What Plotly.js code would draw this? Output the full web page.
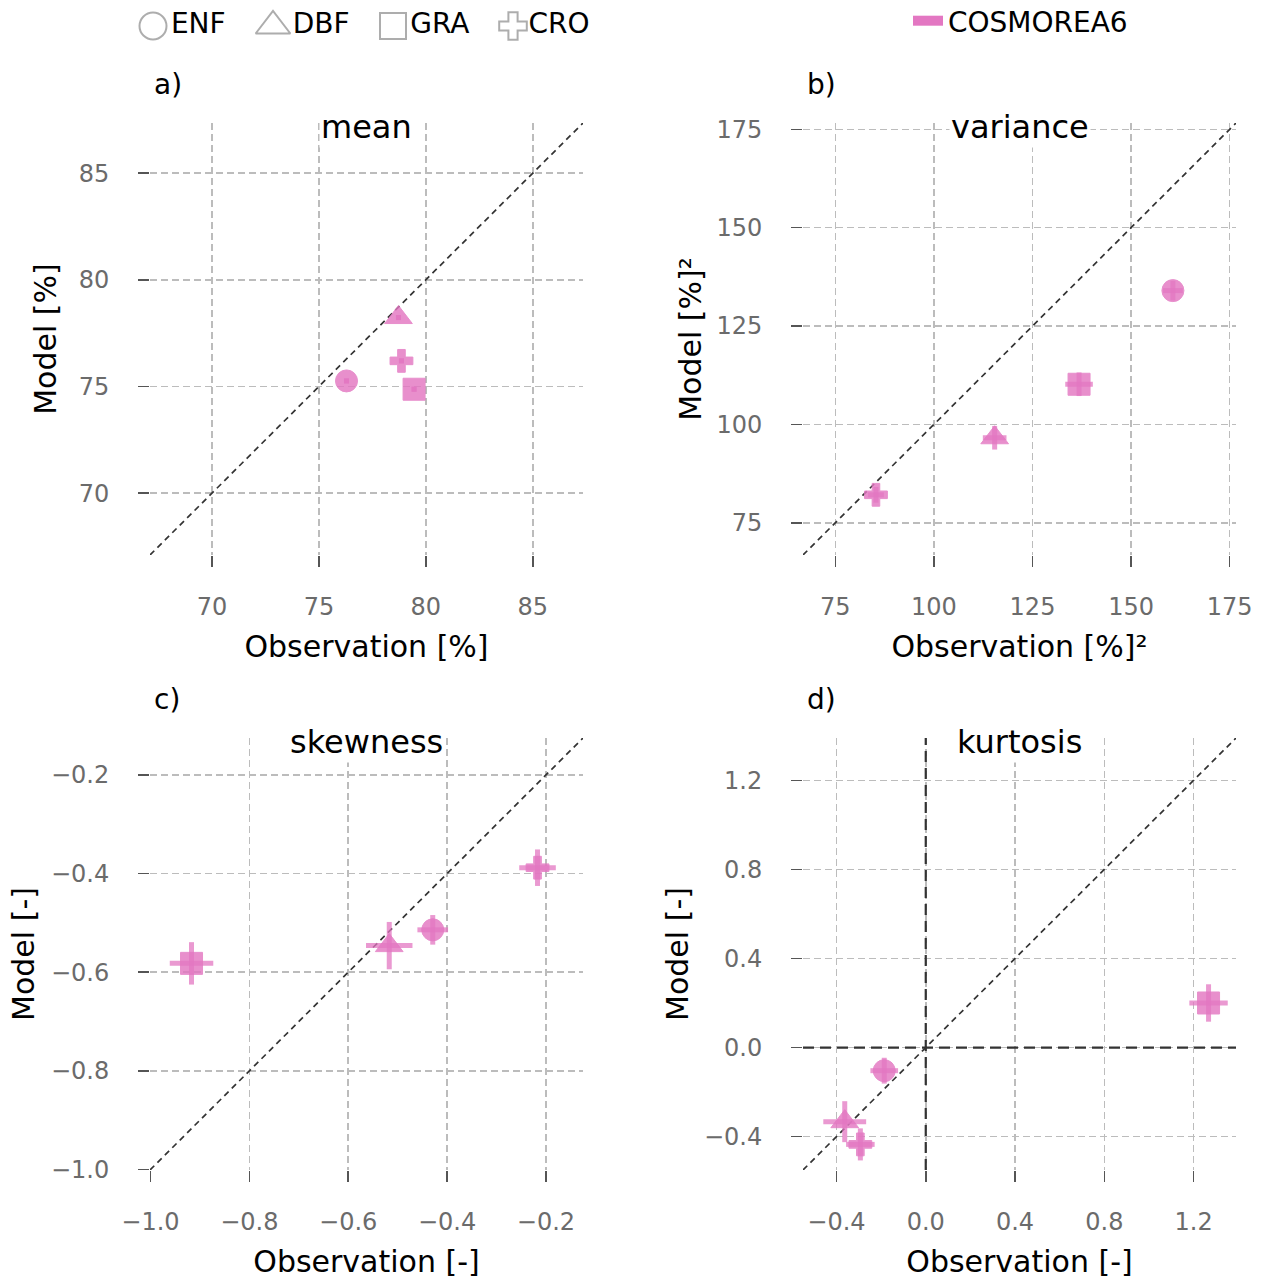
<!DOCTYPE html>
<html>
<head>
<meta charset="utf-8">
<script src="https://cdn.plot.ly/plotly-3.0.1.min.js"></script>
<style>
  html, body { margin: 0; padding: 0; background: #ffffff; }
  #chart { width: 1261px; height: 1281px; }
</style>
</head>
<body>
<div id="chart"></div>
<script>
// Biome classes and their marker shapes
const biomes = ['ENF', 'DBF', 'GRA', 'CRO'];
const biomeSymbols = ['circle', 'triangle-up', 'square', 'cross'];
const keySymbols = ['circle-open', 'triangle-up-open', 'square-open', 'cross-open'];
const modelName = 'COSMOREA6';

// a) mean [%]
const meanObs = [76.29, 78.72, 79.45, 78.86];
const meanMod = [75.26, 78.23, 74.87, 76.20];
const meanObsErr = [0.12, 0.12, 0.12, 0.12];
const meanModErr = [0.12, 0.12, 0.12, 0.12];
const meanTicks = [70, 75, 80, 85];
const meanLim = [67.1, 87.35];

// b) variance [%]^2
const varObs = [160.6, 115.4, 136.8, 85.3];
const varMod = [134.0, 96.6, 110.2, 82.1];
const varObsErr = [2.5, 3.0, 3.5, 2.0];
const varModErr = [2.5, 3.0, 3.0, 2.0];
const varTicks = [75, 100, 125, 150, 175];
const varLim = [66.8, 176.6];

// c) skewness [-]
const skewObs = [-0.429, -0.517, -0.917, -0.217];
const skewMod = [-0.514, -0.546, -0.582, -0.388];
const skewObsErr = [0.031, 0.047, 0.044, 0.037];
const skewModErr = [0.030, 0.048, 0.043, 0.037];
const skewTicks = [-1.0, -0.8, -0.6, -0.4, -0.2];
const skewLim = [-1.001, -0.125];

// d) kurtosis [-]
const kurtObs = [-0.186, -0.363, 1.267, -0.293];
const kurtMod = [-0.104, -0.333, 0.200, -0.435];
const kurtObsErr = [0.062, 0.096, 0.086, 0.064];
const kurtModErr = [0.058, 0.092, 0.084, 0.072];
const kurtTicks = [-0.4, 0.0, 0.4, 0.8, 1.2];
const kurtLim = [-0.55, 1.39];

const panelLetters = ['a)', 'b)', 'c)', 'd)'];
const panelTitles = ['mean', 'variance', 'skewness', 'kurtosis'];
const xTitles = ['Observation [%]', 'Observation [%]²', 'Observation [-]', 'Observation [-]'];
const yTitles = ['Model [%]', 'Model [%]²', 'Model [-]', 'Model [-]'];

// ---- styling ----
const PINK = '#e377c2';
const PINK_ERR = 'rgba(227,119,194,0.75)';
const FONT = 'DejaVu Sans, sans-serif';
const W = 1261, H = 1281;
const px = v => v / W;
const py = v => 1 - v / H;

const panels = [
  { obs: meanObs, mod: meanMod, ex: meanObsErr, ey: meanModErr, ticks: meanTicks, lim: meanLim, fmt: 'd', zero: false, yStand: 13 },
  { obs: varObs, mod: varMod, ex: varObsErr, ey: varModErr, ticks: varTicks, lim: varLim, fmt: 'd', zero: false, yStand: 5 },
  { obs: skewObs, mod: skewMod, ex: skewObsErr, ey: skewModErr, ticks: skewTicks, lim: skewLim, fmt: '.1f', zero: false, yStand: 7 },
  { obs: kurtObs, mod: kurtMod, ex: kurtObsErr, ey: kurtModErr, ticks: kurtTicks, lim: kurtLim, fmt: '.1f', zero: true, yStand: 6 }
];

// subplot boxes in pixels (left, right) and (top, bottom)
const colX = [[150, 583], [803, 1236]];
const rowY = [[123, 555], [738, 1170]];

const traces = [];
const layout = {
  width: W, height: H,
  margin: { l: 0, r: 0, t: 0, b: 0, autoexpand: false },
  paper_bgcolor: '#ffffff',
  plot_bgcolor: '#ffffff',
  font: { family: FONT, color: '#000' },
  showlegend: true,
  legend: {
    orientation: 'h',
    x: px(908), xanchor: 'left',
    y: py(21), yanchor: 'middle',
    font: { size: 28, color: '#000', family: FONT },
    bgcolor: 'rgba(0,0,0,0)',
    itemwidth: 30
  },
  annotations: []
};

panels.forEach((p, i) => {
  const n = i + 1;
  const xa = n === 1 ? 'x' : 'x' + n;
  const ya = n === 1 ? 'y' : 'y' + n;
  const xKey = n === 1 ? 'xaxis' : 'xaxis' + n;
  const yKey = n === 1 ? 'yaxis' : 'yaxis' + n;
  const cx = colX[i % 2];
  const ry = rowY[Math.floor(i / 2)];

  const axisCommon = {
    showgrid: true,
    gridcolor: '#bcbcbc',
    gridwidth: 1.6,
    griddash: '7px,4px',
    zeroline: false,
    showline: false,
    ticks: 'outside',
    ticklen: 11,
    tickwidth: 1.6,
    tickcolor: '#555555',
    tickfont: { size: 24, color: '#6b6b6b', family: FONT },
    tickmode: 'array',
    tickvals: p.ticks,
    tickformat: p.fmt,
    range: p.lim,
    automargin: false,
    fixedrange: true
  };

  layout[xKey] = Object.assign({}, axisCommon, {
    domain: [px(cx[0]), px(cx[1])],
    anchor: ya,
    ticklabelstandoff: 19,
    title: { text: xTitles[i], font: { size: 30, color: '#000', family: FONT }, standoff: 16 }
  });
  layout[yKey] = Object.assign({}, axisCommon, {
    domain: [py(ry[1]), py(ry[0])],
    anchor: xa,
    ticklabelstandoff: 24,
    title: { text: yTitles[i], font: { size: 30, color: '#000', family: FONT }, standoff: p.yStand }
  });

  // dashed zero lines (kurtosis only)
  if (p.zero) {
    const zeroLine = { color: '#333333', width: 2.2, dash: '11px,6px' };
    traces.push({
      type: 'scatter', mode: 'lines', x: p.lim, y: [0, 0],
      xaxis: xa, yaxis: ya, line: zeroLine, hoverinfo: 'skip', showlegend: false
    });
    traces.push({
      type: 'scatter', mode: 'lines', x: [0, 0], y: p.lim,
      xaxis: xa, yaxis: ya, line: zeroLine, hoverinfo: 'skip', showlegend: false
    });
  }

  // 1:1 reference line
  traces.push({
    type: 'scatter', mode: 'lines',
    x: p.lim, y: p.lim,
    xaxis: xa, yaxis: ya,
    line: { color: '#333333', width: 1.7, dash: '6px,4.5px' },
    hoverinfo: 'skip', showlegend: false
  });

  // model vs observation per biome
  traces.push({
    type: 'scatter', mode: 'markers',
    x: p.obs, y: p.mod,
    xaxis: xa, yaxis: ya,
    text: biomes,
    name: modelName,
    showlegend: false,
    marker: {
      symbol: biomeSymbols,
      size: [22, 24, 22, 19],
      color: PINK,
      opacity: 0.82,
      line: { color: PINK, width: 1 }
    },
    error_x: { type: 'data', array: p.ex, visible: true, color: PINK_ERR, thickness: 5, width: 0 },
    error_y: { type: 'data', array: p.ey, visible: true, color: PINK_ERR, thickness: 5, width: 0 }
  });

  // panel letter
  layout.annotations.push({
    text: panelLetters[i],
    xref: xa + ' domain', yref: ya + ' domain',
    x: 0, y: 1, xanchor: 'left', yanchor: 'middle',
    xshift: 2, yshift: 39,
    showarrow: false,
    font: { size: 28, color: '#000', family: FONT }
  });
  // statistic title
  layout.annotations.push({
    text: panelTitles[i],
    xref: xa + ' domain', yref: ya + ' domain',
    x: 0.5, y: 1, xanchor: 'center', yanchor: 'middle',
    yshift: -4,
    showarrow: false,
    bgcolor: '#ffffff',
    borderpad: 1,
    font: { size: 32, color: '#000', family: FONT }
  });
});

// biome key along the top
layout.xaxis5 = {
  domain: [px(93), px(573)], anchor: 'y5', type: 'category',
  range: [-0.5, 3.5], visible: false, fixedrange: true
};
layout.yaxis5 = {
  domain: [py(46), py(6)], anchor: 'x5',
  range: [-1, 1], visible: false, fixedrange: true
};
traces.push({
  type: 'scatter', mode: 'markers+text',
  x: biomes, y: biomes.map(() => 0),
  xaxis: 'x5', yaxis: 'y5',
  text: biomes,
  textposition: 'middle right',
  cliponaxis: false,
  textfont: { size: 28, color: '#000', family: FONT },
  marker: {
    symbol: keySymbols,
    size: [27, 30, 26, 23],
    color: '#8a8a8a',
    line: { color: '#8a8a8a', width: 2 }
  },
  hoverinfo: 'skip', showlegend: false
});

// model key
traces.push({
  type: 'scatter', mode: 'lines',
  x: [null], y: [null],
  name: modelName,
  line: { color: PINK, width: 10 },
  showlegend: true,
  hoverinfo: 'skip'
});

Plotly.newPlot('chart', traces, layout, { displayModeBar: false, staticPlot: true });
</script>
</body>
</html>
